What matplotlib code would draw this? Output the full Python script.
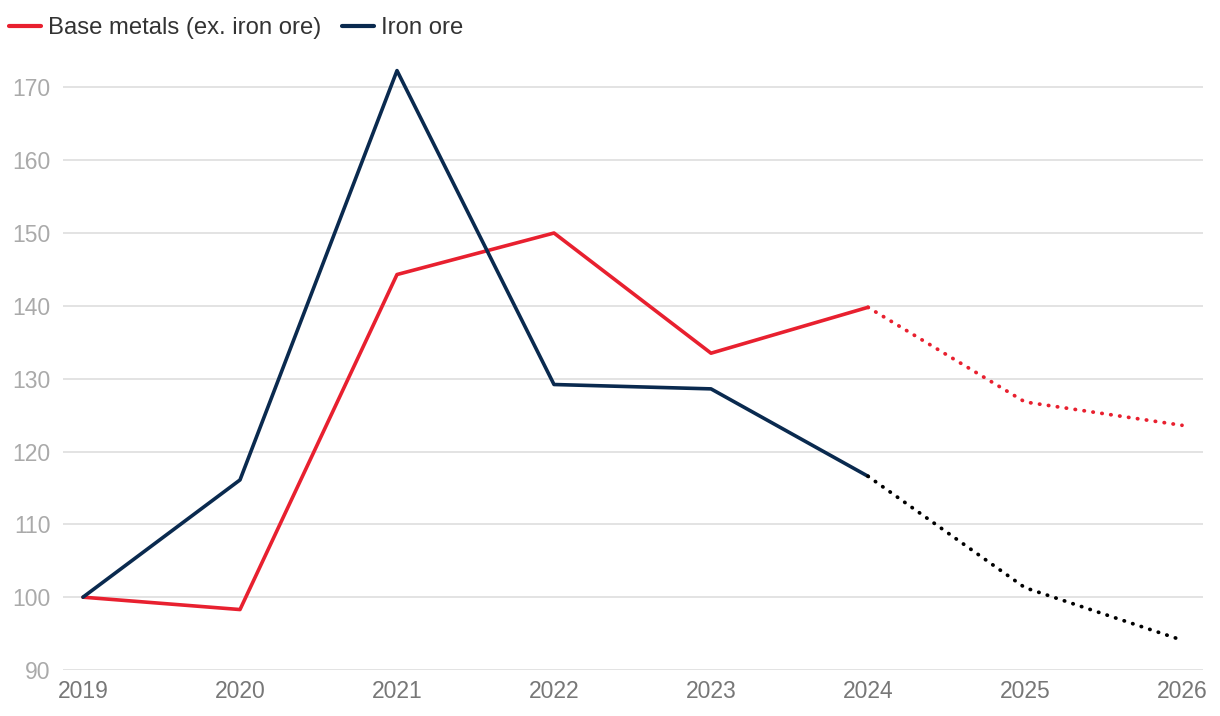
import matplotlib
matplotlib.use("Agg")
import matplotlib.pyplot as plt

plt.rcParams['font.family'] = ['Liberation Sans', 'DejaVu Sans']

years = [2019, 2020, 2021, 2022, 2023, 2024, 2025, 2026]
base_metals = [100, 98.3, 144.3, 150.0, 133.5, 139.8, 126.8, 123.6]
iron_ore = [100, 116.1, 172.3, 129.2, 128.6, 116.6, 101.3, 94.1]
forecast_from = 5  # 2024 onward is forecast (dotted)
yticks = [90, 100, 110, 120, 130, 140, 150, 160, 170]

red = '#E8202F'
navy = '#0A2A4F'

fig = plt.figure(figsize=(12.2, 7.16), dpi=100)
ax = fig.add_axes([63 / 1220, 1 - 670 / 716, (1203 - 63) / 1220, (670 - 66.6) / 716])

f = forecast_from
ax.plot(years[:f + 1], base_metals[:f + 1], color=red, lw=2.6, solid_capstyle='round',
        label='Base metals (ex. iron ore)', zorder=3)
ax.plot(years[:f + 1], iron_ore[:f + 1], color=navy, lw=2.6, solid_capstyle='round',
        label='Iron ore', zorder=3)
ax.plot(years[f:], base_metals[f:], color=red, lw=2.7, linestyle=(0, (0.1, 2.3)),
        dash_capstyle='round', zorder=3)
ax.plot(years[f:], iron_ore[f:], color='black', lw=2.7, linestyle=(0, (0.1, 2.3)),
        dash_capstyle='round', zorder=3)

ax.set_xlim(2019 - 20 / 157, 2026 + 21 / 157)
ax.set_ylim(90, 172.85)
ax.set_yticks(yticks)
ax.set_xticks(years)
ax.grid(axis='y', color='#e3e3e3', lw=1.4, zorder=0)
for s in ax.spines.values():
    s.set_visible(False)
ax.tick_params(axis='y', length=0, pad=9, labelsize=16.5, labelcolor='#aaaaaa')
ax.tick_params(axis='x', length=0, pad=7, labelsize=16.5, labelcolor='#777777')

leg = fig.legend(loc='center left', bbox_to_anchor=(9 / 1220, 1 - 28 / 716), ncol=2,
                 frameon=False, fontsize=17.2, handlelength=1.35, handletextpad=0.3,
                 columnspacing=0.85, labelcolor='#333333', borderpad=0, borderaxespad=0)
for h in leg.get_lines():
    h.set_linewidth(3)

fig.savefig('out.png', dpi=100)
